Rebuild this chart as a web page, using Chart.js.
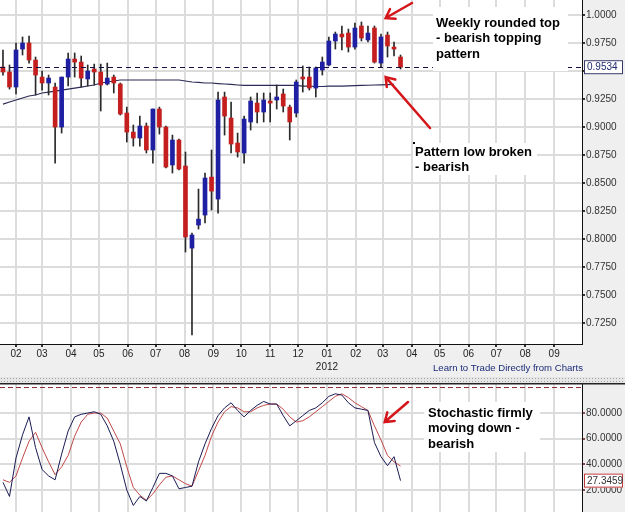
<!DOCTYPE html>
<html>
<head>
<meta charset="utf-8">
<script src="https://cdn.jsdelivr.net/npm/chart.js@4.4.0/dist/chart.umd.min.js"></script>
<style>
  body { margin: 0; width: 625px; height: 512px; overflow: hidden; background: #efefef; }
  #priceChart { position: absolute; left: 0; top: 0; }
  #sep { position: absolute; left: 0; top: 377px; width: 625px; height: 6px; background-color: #e6e6e6;
         background-image: radial-gradient(#a0a0a0 0.6px, transparent 0.8px); background-size: 3px 3px; }
  #stochChart { position: absolute; left: 0; top: 383px; }
</style>
</head>
<body>
<canvas id="priceChart" width="625" height="378"></canvas>
<div id="sep"></div>
<canvas id="stochChart" width="625" height="129"></canvas>
<script>
// weekly bars, x = day number counted from 1 Jan 2011
const firstWeek = 17;
const axisStart = 13.8;
const axisEnd = 638.9;

const opens = [
  0.9536, 0.9491, 0.9357, 0.9696, 0.9750, 0.9598, 0.9446, 0.9393, 0.9357, 0.9000,
  0.9446, 0.9607, 0.9580, 0.9429, 0.9518, 0.9491, 0.9384, 0.9446, 0.9384, 0.9125,
  0.8955, 0.8902, 0.9009, 0.8795, 0.9161, 0.9000, 0.8661, 0.8884, 0.8652, 0.7919,
  0.8125, 0.8214, 0.8553, 0.8357, 0.9268, 0.9080, 0.8857, 0.8768, 0.9045, 0.9214,
  0.9134, 0.9232, 0.9241, 0.9295, 0.9178, 0.9125, 0.9446, 0.9446, 0.9348, 0.9509,
  0.9554, 0.9768, 0.9830, 0.9839, 0.9714, 0.9902, 0.9777, 0.9884, 0.9571, 0.9821,
  0.9714, 0.9625];
const highs = [
  0.9688, 0.9554, 0.9750, 0.9804, 0.9813, 0.9625, 0.9500, 0.9464, 0.9393, 0.9446,
  0.9661, 0.9661, 0.9634, 0.9554, 0.9562, 0.9562, 0.9571, 0.9464, 0.9393, 0.9178,
  0.9018, 0.9098, 0.9036, 0.9161, 0.9178, 0.9009, 0.8928, 0.8893, 0.8777, 0.8053,
  0.8446, 0.8589, 0.8795, 0.9312, 0.9312, 0.9223, 0.8946, 0.9098, 0.9268, 0.9304,
  0.9304, 0.9304, 0.9375, 0.9339, 0.9196, 0.9420, 0.9545, 0.9536, 0.9536, 0.9625,
  0.9804, 0.9848, 0.9902, 0.9875, 0.9929, 0.9938, 0.9902, 0.9902, 0.9830, 0.9848,
  0.9759, 0.9643];
const lows = [
  0.9464, 0.9339, 0.9295, 0.9643, 0.9571, 0.9286, 0.9330, 0.9286, 0.8678, 0.8946,
  0.9366, 0.9446, 0.9357, 0.9366, 0.9375, 0.9143, 0.9375, 0.9304, 0.9107, 0.8866,
  0.8830, 0.8830, 0.8768, 0.8678, 0.8937, 0.8634, 0.8589, 0.8616, 0.7884, 0.7143,
  0.8089, 0.8143, 0.8259, 0.8232, 0.8928, 0.8768, 0.8732, 0.8678, 0.8973, 0.9036,
  0.9045, 0.9045, 0.9161, 0.9134, 0.8884, 0.9089, 0.9312, 0.9330, 0.9268, 0.9464,
  0.9545, 0.9696, 0.9688, 0.9670, 0.9696, 0.9768, 0.9759, 0.9571, 0.9536, 0.9625,
  0.9634, 0.9518];
const closes = [
  0.9491, 0.9357, 0.9688, 0.9750, 0.9598, 0.9464, 0.9393, 0.9437, 0.9000, 0.9446,
  0.9607, 0.9580, 0.9437, 0.9500, 0.9491, 0.9375, 0.9437, 0.9393, 0.9116, 0.8955,
  0.8902, 0.9009, 0.8795, 0.9161, 0.9000, 0.8643, 0.8884, 0.8625, 0.8018, 0.8036,
  0.8178, 0.8545, 0.8428, 0.9241, 0.9098, 0.8848, 0.8777, 0.9071, 0.9232, 0.9134,
  0.9241, 0.9214, 0.9268, 0.9187, 0.9045, 0.9402, 0.9429, 0.9348, 0.9527, 0.9580,
  0.9768, 0.9830, 0.9804, 0.9714, 0.9884, 0.9795, 0.9839, 0.9580, 0.9804, 0.9723,
  0.9696, 0.9534];
const movingAvg = [
  0.9205, 0.9223, 0.9241, 0.9259, 0.9277, 0.9286, 0.9304, 0.9312, 0.9321, 0.9330,
  0.9339, 0.9348, 0.9357, 0.9366, 0.9375, 0.9393, 0.9402, 0.9411, 0.9420, 0.9420,
  0.9420, 0.9420, 0.9420, 0.9420, 0.9420, 0.9420, 0.9420, 0.9420, 0.9411, 0.9402,
  0.9398, 0.9393, 0.9393, 0.9388, 0.9384, 0.9380, 0.9375, 0.9371, 0.9371, 0.9371,
  0.9371, 0.9371, 0.9371, 0.9371, 0.9371, 0.9371, 0.9366, 0.9366, 0.9362, 0.9362,
  0.9366, 0.9366, 0.9366, 0.9368, 0.9370, 0.9371, 0.9373, 0.9375, 0.9377, 0.9378,
  0.9380, null];
const stochK = [
  26, 15, 45, 63, 77, 53, 36, 31, 28, 48,
  66, 77, 79, 80, 81, 79, 70, 58, 40, 20,
  8, 15, 11.5, 22, 33, 33, 31, 21, 22, 23,
  42, 56, 68, 78, 84, 88, 82, 77, 82, 86,
  89, 87, 87, 78, 70, 74, 78, 82, 84, 88,
  93, 95, 94, 88, 84, 83, 82, 57, 46, 39,
  46, 27.3459];
const stochD = [
  28, 26, 31, 45, 58, 65, 53, 42, 32, 38,
  47, 62, 73, 79, 80, 80, 76, 66, 56, 38,
  22, 16, 12, 17, 24, 30, 31, 28, 25, 23,
  35, 47, 62, 73, 81, 85, 84, 81, 81, 84,
  86, 87, 87, 83, 77, 73, 74, 77, 81, 85,
  89, 93, 95, 92, 88, 85, 82, 70, 59, 47,
  42, 38.7];

const monthDays = [31, 59, 90, 120, 151, 181, 212, 243, 273, 304, 334, 365, 396, 425, 456, 486, 517, 547, 578, 609];
const monthLabels = ['02', '03', '04', '05', '06', '07', '08', '09', '10', '11', '12', '01', '02', '03', '04', '05', '06', '07', '08', '09'];
const yearLabelDay = 365;
const lastClose = closes[closes.length - 1];
const lastK = stochK[stochK.length - 1];

const weeks = opens.map((_, i) => firstWeek + 7 * i);
const font = "'Liberation Sans', Arial, sans-serif";
const gridColor = '#dcdcdc';
const upColor = '#1f1fa3';
const downColor = '#c41e1e';

const panelBg = {
    id: 'panelBg',
    beforeDraw(chart) {
        const { ctx, chartArea: a } = chart;
        ctx.save();
        ctx.fillStyle = '#efefef';
        ctx.fillRect(0, 0, chart.width, chart.height);
        ctx.fillStyle = '#ffffff';
        ctx.fillRect(a.left, a.top, a.right - a.left, a.bottom - a.top);
        ctx.restore();
    }
};

function arrow(ctx, x1, y1, x2, y2) {
    const ang = Math.atan2(y2 - y1, x2 - x1);
    ctx.save();
    ctx.strokeStyle = '#d4161b';
    ctx.lineWidth = 2.5;
    ctx.lineCap = 'round';
    ctx.beginPath();
    ctx.moveTo(x1, y1);
    ctx.lineTo(x2, y2);
    ctx.moveTo(x2 - 10 * Math.cos(ang - 0.6), y2 - 10 * Math.sin(ang - 0.6));
    ctx.lineTo(x2, y2);
    ctx.lineTo(x2 - 10 * Math.cos(ang + 0.6), y2 - 10 * Math.sin(ang + 0.6));
    ctx.stroke();
    ctx.restore();
}

function note(ctx, lines, x, y, box) {
    ctx.save();
    ctx.fillStyle = '#ffffff';
    ctx.fillRect(box[0], box[1], box[2], box[3]);
    ctx.fillStyle = '#000000';
    ctx.font = 'bold 13px ' + font;
    ctx.textBaseline = 'middle';
    lines.forEach((t, i) => ctx.fillText(t, x, y + i * 15.5));
    ctx.restore();
}

function valueBox(ctx, text, y, border, color) {
    ctx.save();
    ctx.fillStyle = '#ffffff';
    ctx.fillRect(584, y - 7, 39, 14);
    ctx.strokeStyle = border;
    ctx.lineWidth = 1;
    ctx.strokeRect(584.5, y - 6.5, 38, 13);
    ctx.fillStyle = color;
    ctx.font = '10px ' + font;
    ctx.textBaseline = 'middle';
    ctx.fillText(text, 587, y + 0.5);
    ctx.restore();
}

const priceNotes = {
    id: 'priceNotes',
    afterDatasetsDraw(chart) {
        const { ctx, chartArea: a, scales: { y } } = chart;
        const yc = Math.round(y.getPixelForValue(lastClose)) + 0.5;
        ctx.save();
        ctx.strokeStyle = '#111144';
        ctx.lineWidth = 1;
        ctx.setLineDash([5, 4]);
        ctx.beginPath();
        ctx.moveTo(a.left, yc);
        ctx.lineTo(a.right, yc);
        ctx.stroke();
        ctx.restore();
    },
    afterDraw(chart) {
        const { ctx, scales: { x, y } } = chart;
        note(ctx, ['Weekly rounded top', '- bearish topping', 'pattern'], 436, 23, [433, 7, 135, 64]);
        note(ctx, ['Pattern low broken', '- bearish'], 415, 152, [413, 143, 124, 32]);
        ctx.fillStyle = '#000';
        ctx.fillRect(413, 142, 2, 2);
        const hx = x.getPixelForValue(428);
        arrow(ctx, 412, 3, hx, y.getPixelForValue(0.9973));
        arrow(ctx, 430, 128, hx, y.getPixelForValue(0.9446));
        valueBox(ctx, lastClose.toFixed(4), y.getPixelForValue(lastClose), '#3a3a6a', '#1f2a6e');
        ctx.save();
        ctx.font = '10px ' + font;
        ctx.fillStyle = '#222';
        ctx.textAlign = 'center';
        ctx.textBaseline = 'middle';
        ctx.fillText('2012', x.getPixelForValue(yearLabelDay), 367);
        ctx.textAlign = 'left';
        ctx.font = '9.6px ' + font;
        ctx.fillStyle = '#1c2c78';
        ctx.fillText('Learn to Trade Directly from Charts', 433, 368);
        ctx.restore();
    }
};

const stochNotes = {
    id: 'stochNotes',
    afterDatasetsDraw(chart) {
        const { ctx, chartArea: a, scales: { y } } = chart;
        const yd = Math.round(y.getPixelForValue(100)) + 0.5;
        ctx.save();
        ctx.strokeStyle = '#8a3030';
        ctx.lineWidth = 1;
        ctx.setLineDash([5, 3]);
        ctx.beginPath();
        ctx.moveTo(a.left, yd);
        ctx.lineTo(a.right, yd);
        ctx.stroke();
        ctx.setLineDash([]);
        ctx.strokeStyle = '#222';
        ctx.lineWidth = 1.5;
        ctx.beginPath();
        ctx.moveTo(0, 0.75);
        ctx.lineTo(chart.width, 0.75);
        ctx.stroke();
        ctx.restore();
    },
    afterDraw(chart) {
        const { ctx, scales: { x, y } } = chart;
        note(ctx, ['Stochastic firmly', 'moving down -', 'bearish'], 428, 30, [424, 19, 116, 50]);
        arrow(ctx, 408, 19, x.getPixelForValue(427), y.getPixelForValue(73));
        valueBox(ctx, lastK.toFixed(4), y.getPixelForValue(lastK), '#c03a3a', '#333');
    }
};

const monthTicks = scale => { scale.ticks = monthDays.map(v => ({ value: v })); };
// the y axes sit flush with the panel edges, so drop the label half-height padding
const fitRight = scale => { scale.width = 43; scale.paddingTop = 0; scale.paddingBottom = 0; };

new Chart(document.getElementById('priceChart'), {
    type: 'bar',
    data: {
        datasets: [{
            type: 'bar',
            data: weeks.map((d, i) => ({ x: d, y: [opens[i], closes[i]] })),
            backgroundColor: closes.map((c, i) => c >= opens[i] ? upColor : downColor),
            barThickness: 4,
            minBarLength: 2,
            grouped: false,
            order: 0
        }, {
            type: 'bar',
            data: weeks.map((d, i) => ({ x: d, y: [lows[i], highs[i]] })),
            backgroundColor: '#2a2a2a',
            barThickness: 1,
            grouped: false,
            order: 1
        }, {
            type: 'line',
            data: weeks.map((d, i) => ({ x: d, y: movingAvg[i] })),
            borderColor: '#2b2b55',
            borderWidth: 1.2,
            pointRadius: 0,
            tension: 0,
            order: 2
        }]
    },
    options: {
        responsive: false,
        animation: false,
        events: [],
        layout: { padding: 0 },
        plugins: { legend: { display: false }, tooltip: { enabled: false } },
        scales: {
            x: {
                type: 'linear', min: axisStart, max: axisEnd, offset: false,
                afterBuildTicks: monthTicks,
                afterFit: s => { s.height = 34; },
                ticks: { autoSkip: false, maxRotation: 0, padding: 1, color: '#222', font: { family: font, size: 10 },
                         callback: (v, i) => monthLabels[i] },
                grid: { color: gridColor, lineWidth: 2, offset: false, tickLength: 3, tickColor: '#333' },
                border: { color: '#111', width: 1 }
            },
            y: {
                position: 'right', min: 0.7063, max: 1.0134,
                afterFit: fitRight,
                ticks: { stepSize: 0.025, includeBounds: false, padding: 1, color: '#333', font: { family: font, size: 10 },
                         callback: v => v.toFixed(4) },
                grid: { color: gridColor, lineWidth: 2, tickLength: 3, tickColor: '#333' },
                border: { color: '#111', width: 1 }
            }
        }
    },
    plugins: [panelBg, priceNotes]
});

new Chart(document.getElementById('stochChart'), {
    type: 'line',
    data: {
        datasets: [{
            data: weeks.map((d, i) => ({ x: d, y: stochK[i] })),
            borderColor: '#1b1b55',
            borderWidth: 1,
            pointRadius: 0,
            tension: 0
        }, {
            data: weeks.map((d, i) => ({ x: d, y: stochD[i] })),
            borderColor: '#c24a4a',
            borderWidth: 1,
            pointRadius: 0,
            tension: 0
        }]
    },
    options: {
        responsive: false,
        animation: false,
        events: [],
        layout: { padding: 0 },
        plugins: { legend: { display: false }, tooltip: { enabled: false } },
        scales: {
            x: {
                type: 'linear', min: axisStart, max: axisEnd, offset: false,
                afterBuildTicks: monthTicks,
                afterFit: s => { s.height = 0; },
                ticks: { display: false },
                grid: { color: gridColor, lineWidth: 2, drawTicks: false },
                border: { display: false }
            },
            y: {
                position: 'right', min: 2.9, max: 103.4,
                afterBuildTicks: s => { s.ticks = s.ticks.filter(t => t.value <= 80); },
                afterFit: fitRight,
                ticks: { stepSize: 20, includeBounds: false, padding: 1, color: '#333', font: { family: font, size: 10 },
                         callback: v => v.toFixed(4) },
                grid: { color: gridColor, lineWidth: 2, tickLength: 3, tickColor: '#8a4a4a' },
                border: { color: '#111', width: 1 }
            }
        }
    },
    plugins: [panelBg, stochNotes]
});
</script>
</body>
</html>
